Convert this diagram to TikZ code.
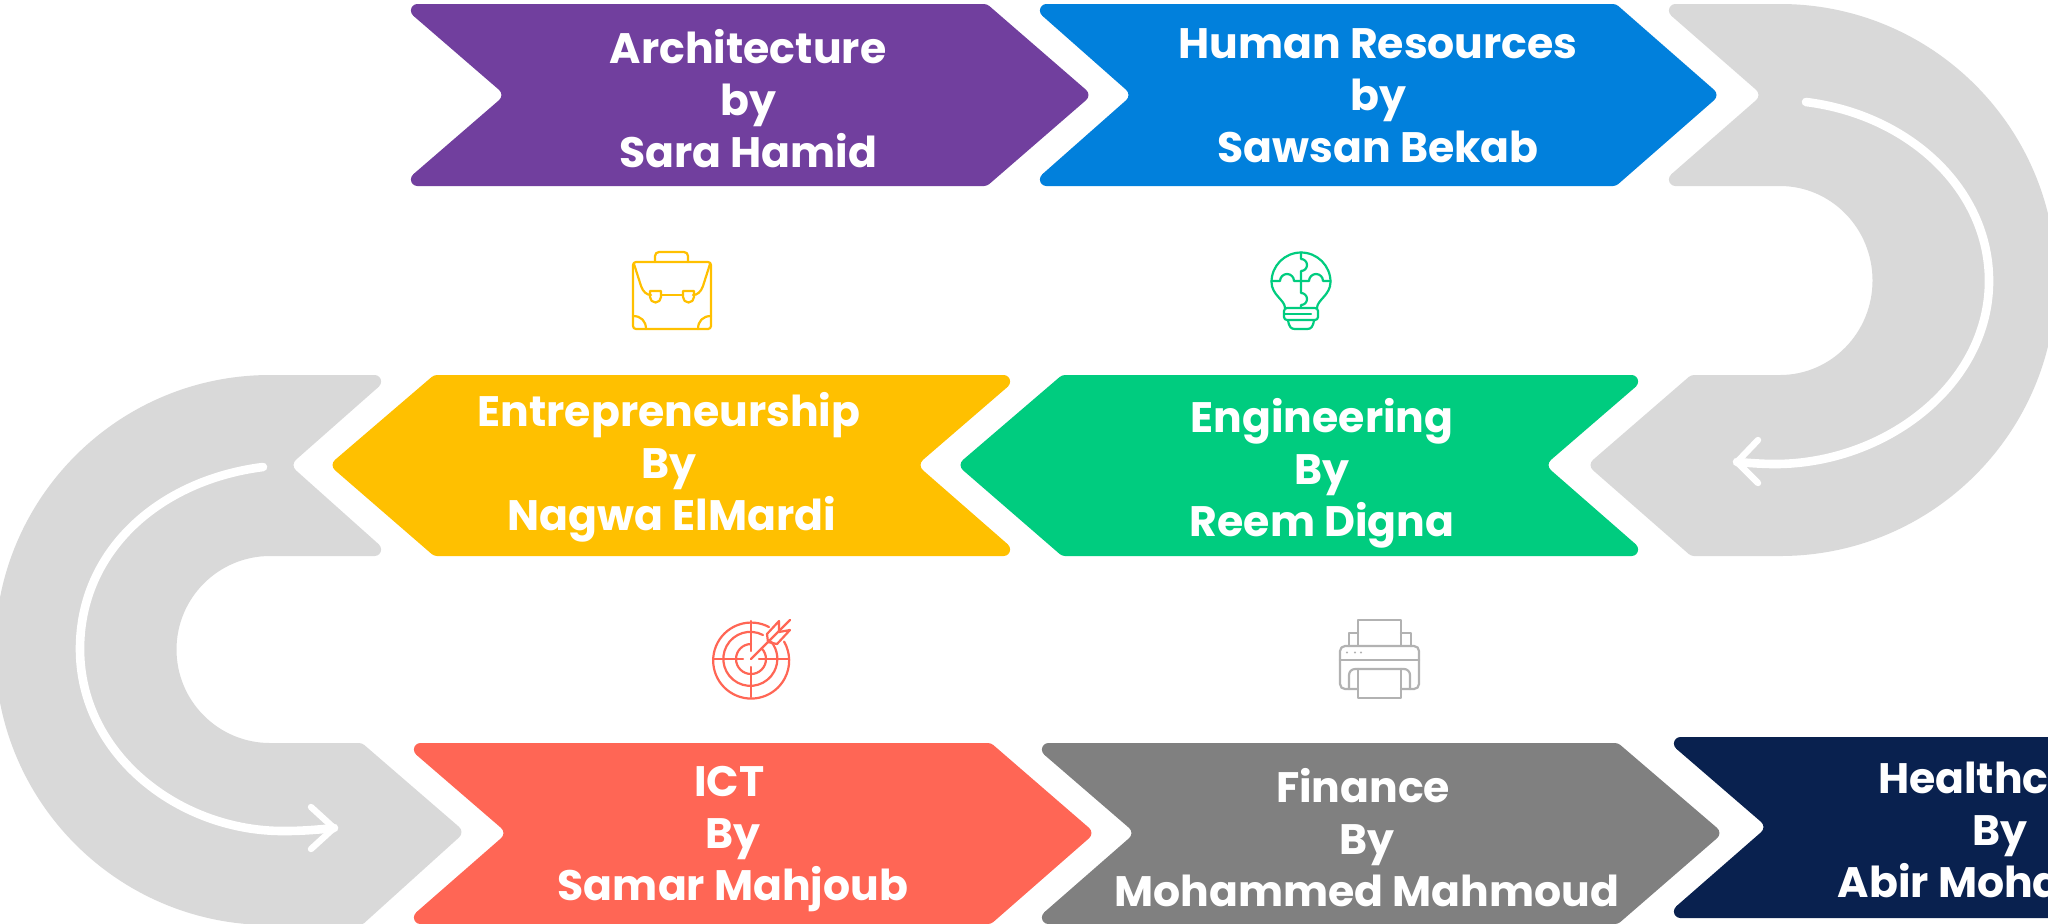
\documentclass[tikz,border=0pt]{standalone}
\usepackage{fontspec}
\setmainfont{Poppins}
\definecolor{cpurple}{HTML}{713F9E}
\definecolor{cblue}{HTML}{0180DC}
\definecolor{cgreen}{HTML}{00CC7F}
\definecolor{cyellow}{HTML}{FFC000}
\definecolor{cred}{HTML}{FF6655}
\definecolor{cgrey}{HTML}{808080}
\definecolor{cnavy}{HTML}{09214F}
\definecolor{clight}{HTML}{D9D9D9}
\definecolor{cprint}{HTML}{B2B2B2}
% chevron: colour, back corner x, notch x, shoulder x, tip x, top, mid, bottom
\newcommand{\chevR}[8]{%
  \pgfmathsetmacro\chs{ifthenelse(#3>#2,1,-1)}%
  \fill[#1] ({(#2+#4)/2},#6) [rounded corners=1.5pt] -- (#4,#6) [rounded corners=4pt] -- (#5,#7) [rounded corners=1.5pt] -- (#4,#8) [sharp corners] -- ({#2+\chs*17.4},#8) -- ({#2+\chs*13},{#8-11.5}) [rounded corners=4pt] -- (#3,#7) [sharp corners] -- ({#2+\chs*13},{#6+11.5}) -- ({#2+\chs*17.4},#6) -- cycle;
  \backdots{#1}{#2}{#6}{#8}}
\newcommand{\backdots}[4]{%
  \fill[#1] ({#2+\chs*17.4},{#3+6.5}) circle (6.5);
  \fill[#1] ({#2+\chs*17.4},{#4-6.5}) circle (6.5);}
\tikzset{
  label/.style={text=white,align=center,font=\fontsize{21.3}{26}\selectfont\bfseries,inner sep=0pt},
  whiteline/.style={draw=white,line width=4.3pt,line cap=round,line join=round},
  whitehead/.style={draw=white,line width=3.2pt,line cap=round,line join=round},
  icon/.style={line width=1.1pt,line cap=round,line join=round}
}
\begin{document}
\begin{tikzpicture}[x=0.5pt,y=-0.5pt]
\useasboundingbox (0,0) rectangle (2048,923);
\clip (0,0) rectangle (2048,923);
\fill[white] (0,0) rectangle (2048,923);
% chevrons
\chevR{cpurple}{400}{505}{987}{1092}{4}{95}{186}
\chevR{cblue}{1029}{1132}{1616}{1720}{4}{95}{186}
\chevR{cgreen}{1649}{1545}{1062}{957}{375}{465}{556}
\chevR{cyellow}{1021}{917}{434}{329}{375}{465}{556}
\chevR{cred}{403}{507}{991}{1095}{743}{833}{924}
\chevR{cgrey}{1031}{1135}{1618}{1723}{743}{833}{924}
\chevR{cnavy}{1663}{1767}{2060}{2160}{737}{827}{918}
% right return band
\def\chs{1}
\fill[clight] (1720,4) -- (1780,4) arc[start angle=-90,end angle=90,radius=276] [rounded corners=1.5pt] -- (1691,556) [rounded corners=4pt] -- (1587,465) [rounded corners=1.5pt] -- (1691,375) [sharp corners] -- (1780,375) arc[start angle=90,end angle=-90,x radius=92.5,y radius=94.5] -- (1675.4,186) -- (1671,174.5) [rounded corners=4pt] -- (1762,95) [sharp corners] -- (1671,15.5) -- (1675.4,4) -- cycle;
\backdots{clight}{1658}{4}{186}
\draw[whiteline] (1806,102) .. controls (1910,115) and (1989,190) .. (1989,281) .. controls (1989,385) and (1885,464) .. (1775,464) .. controls (1762,464) and (1750,463) .. (1737,462);
\draw[whitehead] (1758,440) -- (1737,462) -- (1758,483);
% left return band
\def\chs{-1}
\fill[clight] (330,375) -- (270,375) arc[start angle=-90,end angle=-270,radius=275] [rounded corners=1.5pt] -- (362,925) [rounded corners=4pt] -- (465,832) [rounded corners=1.5pt] -- (362,743) [sharp corners] -- (270,743) arc[start angle=90,end angle=270,radius=93.5] -- (374.6,556) -- (379,544.5) [rounded corners=4pt] -- (290,465) [sharp corners] -- (379,386.5) -- (374.6,375) -- cycle;
\backdots{clight}{392}{375}{556}
\draw[whiteline] (263,467) .. controls (160,480) and (80,550) .. (80,649) .. controls (80,755) and (180,832) .. (285,831) .. controls (300,831) and (315,830) .. (334,828);
\draw[whitehead] (311,807) -- (334,828) -- (311,849);
% labels
\node[label] (arch) at (748,99) {Architecture\\by\hspace*{3.3pt}\\Sara Hamid};
\node[label] (hr) at (1378,96) {Human Resources\\by\hspace*{3.3pt}\\Sawsan Bekab};
\node[label] (ent) at (669,467) {Entrepreneurship\\By\\Nagwa ElMardi\hspace*{-3pt}};
\node[label] (eng) at (1322,473) {Engineering\\By\\Reem Digna};
\node[label] (ict) at (733,839) {ICT\hspace*{3.9pt}\\By\\Samar Mahjoub};
\node[label] (fin) at (1367,838) {Finance\hspace*{3.9pt}\\By\\Mohammed Mahmoud};
\node[label] (health) at (2000,830) {Healthcare\\By\\Abir Mohamed};
% briefcase icon
\begin{scope}[icon,draw=cyellow]
\draw[rounded corners=1.5pt] (633,262) rectangle (711,329);
\draw[rounded corners=2pt] (655,262) -- (655,252) -- (688,252) -- (688,262);
\draw (634,264) -- (641,286) .. controls (643,292) and (647,295) .. (651,295);
\draw (710,264) -- (703,286) .. controls (701,292) and (697,295) .. (693,295);
\draw (661,295) -- (683,295);
\draw (650,291) -- (661,291) -- (661,297) arc[start angle=0,end angle=180,radius=5.5] -- cycle;
\draw (683,291) -- (694,291) -- (694,297) arc[start angle=0,end angle=180,radius=5.5] -- cycle;
\draw (633,316) .. controls (641,316) and (646,321) .. (646,329);
\draw (711,316) .. controls (703,316) and (698,321) .. (698,329);
\end{scope}
% bulb icon
\begin{scope}[icon,draw=cgreen]
\draw (1285,308) .. controls (1285,300) and (1271.5,295) .. (1271.5,282) arc[start angle=180,end angle=360,radius=29.5] .. controls (1330.5,295) and (1317,300) .. (1317,308);
\draw[rounded corners=1.5pt] (1284,308) rectangle (1318,320);
\draw (1284,314) -- (1311,314);
\draw (1288,320) .. controls (1289,327) and (1291,329) .. (1295,329) -- (1307,329) .. controls (1311,329) and (1313,327) .. (1314,320);
\draw (1301,252.5) -- (1301,259) arc[start angle=-90,end angle=90,radius=6] -- (1301,271) -- (1301,293) arc[start angle=-90,end angle=90,radius=6] -- (1301,308);
\draw (1271.5,281) -- (1280,281) arc[start angle=180,end angle=360,radius=7] -- (1309,281) arc[start angle=180,end angle=360,radius=7] -- (1330.5,281);
\end{scope}
% target icon
\begin{scope}[icon,draw=cred]
\draw (769,627) arc[start angle=-62,end angle=-390,radius=38];
\draw (763,635) arc[start angle=-62,end angle=-400,radius=27];
\draw (751,644) arc[start angle=-90,end angle=-405,radius=15];
\draw (751,621) -- (751,651);
\draw (751,667) -- (751,697);
\draw (713,659) -- (743,659);
\draw (759,659) -- (789,659);
\draw (751,659) -- (790,620);
\draw (768,642) -- (767,634) -- (779,621) -- (779,632) -- (790,630) -- (777,644) -- cycle;
\end{scope}
% printer icon
\begin{scope}[icon,draw=cprint]
\draw (1358,645) -- (1358,620) -- (1401,620) -- (1401,645);
\draw (1358,633) -- (1349,633) -- (1349,646);
\draw (1401,633) -- (1411,633) -- (1411,646);
\draw[rounded corners=2.5pt] (1358,689) -- (1340,689) -- (1340,646) -- (1419,646) -- (1419,689) -- (1401,689);
\draw (1340,660) -- (1419,660);
\draw[rounded corners=3pt] (1349,689) -- (1349,669) -- (1410,669) -- (1410,689);
\draw (1358,669) -- (1358,698) -- (1401,698) -- (1401,669);
\fill[cprint] (1347,652.5) circle (1.2) (1355,652.5) circle (1.2) (1361,652.5) circle (1.2);
\end{scope}
\end{tikzpicture}
\end{document}
